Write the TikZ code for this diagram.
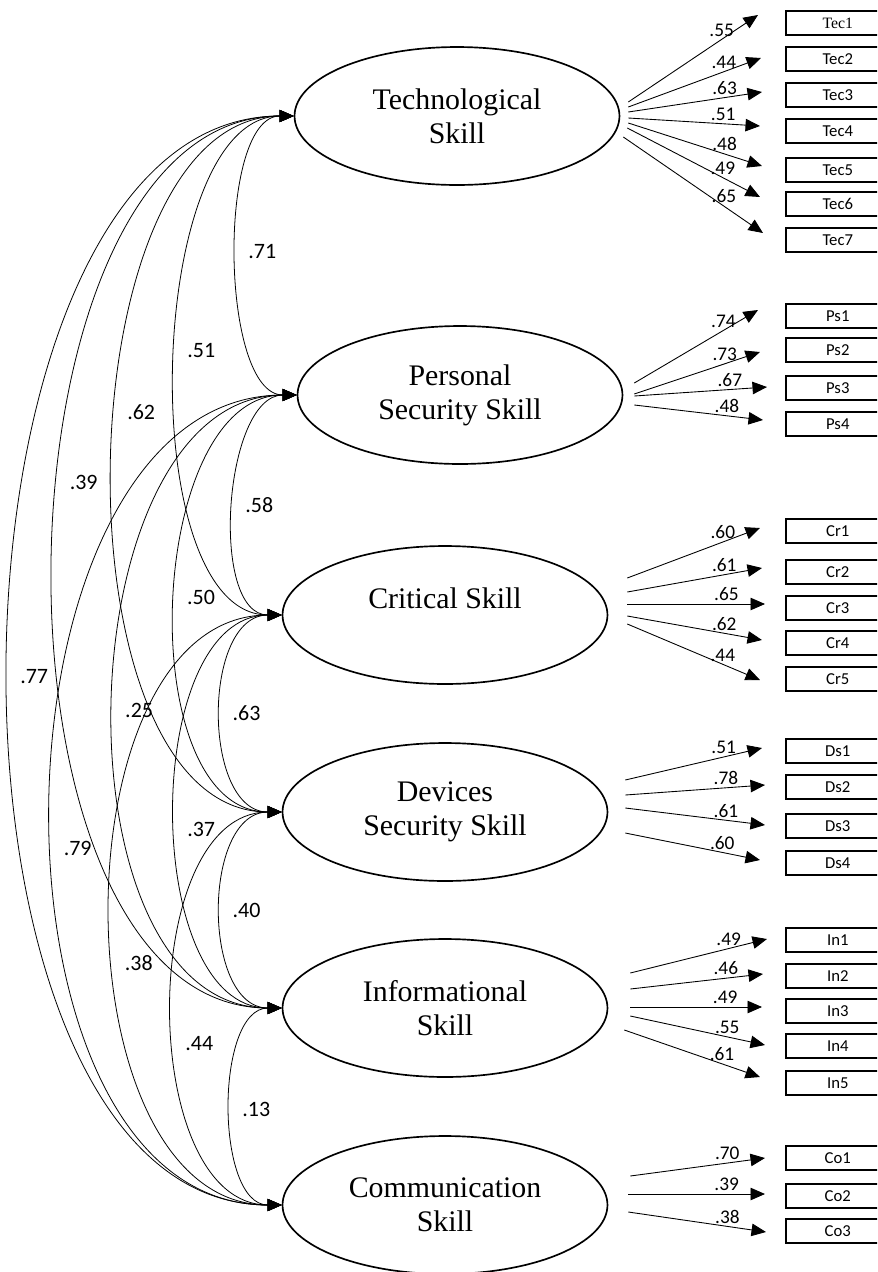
\documentclass[tikz,border=0pt]{standalone}
\usepackage{fontspec}
\setmainfont{Liberation Serif}
\newfontfamily\numfont{Carlito}
\usetikzlibrary{calc}
\usetikzlibrary{arrows.meta}
\usetikzlibrary{shapes.geometric}

\begin{document}
\begin{tikzpicture}[x=0.02cm, y=-0.02cm,
  latent/.style={draw, ellipse, line width=0.95pt, minimum width=6.5cm, minimum height=2.76cm,
    inner sep=0pt, align=center, font=\fontsize{17}{19.5}\selectfont},
  item/.style={draw, rectangle, line width=0.9pt, anchor=west, minimum width=2.08cm,
    minimum height=0.48cm, inner sep=0pt, font=\numfont\fontsize{9.5}{10}\selectfont},
  load/.style={black, line width=0.5pt, -{Triangle[length=2.9mm, width=2.5mm]}},
  corr/.style={black, line width=0.45pt,
    {Triangle[length=2.8mm, width=2.4mm]}-{Triangle[length=2.8mm, width=2.4mm]}},
  wgt/.style={above, pos=0.72, inner sep=1.5pt, font=\numfont\fontsize{11}{12}\selectfont},
  cov/.style={right=6pt, inner sep=0pt, font=\numfont\fontsize{12.5}{14}\selectfont}]

\useasboundingbox (0,0) rectangle (877,1272);
\clip (0,0) rectangle (877,1272);

% latent factors
\node[latent] (tec) at (457,116) {Technological\\Skill};
\node[latent] (ps) at (460,395) {Personal\\Security Skill};
\node[latent] (cr) at (445,615) {Critical Skill\\~};
\node[latent] (ds) at (445,812) {Devices\\Security Skill};
\node[latent] (in) at (445,1008) {Informational\\Skill};
\node[latent] (co) at (445,1205) {Communication\\Skill};

% observed items
\node[item, font=\fontsize{9}{10}\selectfont] (tec1) at (785,23) {Tec1};
\node[item] (tec2) at (785,59) {Tec2};
\node[item] (tec3) at (785,95) {Tec3};
\node[item] (tec4) at (785,131) {Tec4};
\node[item] (tec5) at (785,170) {Tec5};
\node[item] (tec6) at (785,204) {Tec6};
\node[item] (tec7) at (785,240) {Tec7};

\node[item] (ps1) at (785,316) {Ps1};
\node[item] (ps2) at (785,350) {Ps2};
\node[item] (ps3) at (785,388) {Ps3};
\node[item] (ps4) at (785,424) {Ps4};

\node[item] (cr1) at (785,531) {Cr1};
\node[item] (cr2) at (785,572) {Cr2};
\node[item] (cr3) at (785,608) {Cr3};
\node[item] (cr4) at (785,643) {Cr4};
\node[item] (cr5) at (785,679) {Cr5};

\node[item] (ds1) at (785,751) {Ds1};
\node[item] (ds2) at (785,787) {Ds2};
\node[item] (ds3) at (785,826) {Ds3};
\node[item] (ds4) at (785,863) {Ds4};

\node[item] (in1) at (785,940) {In1};
\node[item] (in2) at (785,976) {In2};
\node[item] (in3) at (785,1011) {In3};
\node[item] (in4) at (785,1046) {In4};
\node[item] (in5) at (785,1083) {In5};

\node[item] (co1) at (785,1158) {Co1};
\node[item] (co2) at (785,1196) {Co2};
\node[item] (co3) at (785,1231) {Co3};

% loadings
\draw[load] ($(tec.east)+(8,-14)$) -- node[wgt] {.55} ($(tec1.west)+(-27,-8)$);
\draw[load] ($(tec.east)+(8,-9)$) -- node[wgt] {.44} ($(tec2.west)+(-24,-1)$);
\draw[load] ($(tec.east)+(8,-4)$) -- node[wgt] {.63} ($(tec3.west)+(-23,-3)$);
\draw[load] ($(tec.east)+(8,2)$) -- node[wgt] {.51} ($(tec4.west)+(-25,-5)$);
\draw[load] ($(tec.east)+(8,7)$) -- node[wgt] {.48} ($(tec5.west)+(-23,-4)$);
\draw[load] ($(tec.east)+(7,12)$) -- node[wgt] {.49} ($(tec6.west)+(-25,-7)$);
\draw[load] ($(tec.east)+(3,21)$) -- node[wgt] {.65} ($(tec7.west)+(-22,-7)$);

\draw[load] ($(ps.east)+(11,-12)$) -- node[wgt] {.74} ($(ps1.west)+(-27,-6)$);
\draw[load] ($(ps.east)+(11,-1)$) -- node[wgt] {.73} ($(ps2.west)+(-25,2)$);
\draw[load] ($(ps.east)+(11,1)$) -- node[wgt] {.67} ($(ps3.west)+(-18,-1)$);
\draw[load] ($(ps.east)+(11,10)$) -- node[wgt] {.48} ($(ps4.west)+(-22,-4)$);

\draw[load] ($(cr.east)+(19,-37)$) -- node[wgt] {.60} ($(cr1.west)+(-25,-3)$);
\draw[load] ($(cr.east)+(19,-23)$) -- node[wgt] {.61} ($(cr2.west)+(-23,-4)$);
\draw[load] ($(cr.east)+(19,-11)$) -- node[wgt] {.65} ($(cr3.west)+(-20,-4)$);
\draw[load] ($(cr.east)+(19,1)$) -- node[wgt] {.62} ($(cr4.west)+(-23,-3)$);
\draw[load] ($(cr.east)+(19,9)$) -- node[wgt] {.44} ($(cr5.west)+(-25,1)$);

\draw[load] ($(ds.east)+(17,-32)$) -- node[wgt] {.51} ($(ds1.west)+(-23,-3)$);
\draw[load] ($(ds.east)+(17,-17)$) -- node[wgt] {.78} ($(ds2.west)+(-20,-2)$);
\draw[load] ($(ds.east)+(17,-4)$) -- node[wgt] {.61} ($(ds3.west)+(-20,-1)$);
\draw[load] ($(ds.east)+(17,21)$) -- node[wgt] {.60} ($(ds4.west)+(-25,-3)$);

\draw[load] ($(in.east)+(22,-35)$) -- node[wgt] {.49} ($(in1.west)+(-18,-1)$);
\draw[load] ($(in.east)+(22,-19)$) -- node[wgt] {.46} ($(in2.west)+(-22,-2)$);
\draw[load] ($(in.east)+(22,-1)$) -- node[wgt] {.49} ($(in3.west)+(-23,-4)$);
\draw[load] ($(in.east)+(22,8)$) -- node[wgt] {.55} ($(in4.west)+(-20,-1)$);
\draw[load] ($(in.east)+(16,22)$) -- node[wgt] {.61} ($(in5.west)+(-25,-6)$);

\draw[load] ($(co.east)+(22,-29)$) -- node[wgt] {.70} ($(co1.west)+(-20,0)$);
\draw[load] ($(co.east)+(20,-11)$) -- node[wgt] {.39} ($(co2.west)+(-20,-2)$);
\draw[load] ($(co.east)+(20,7)$) -- node[wgt] {.38} ($(co3.west)+(-19,1)$);

% correlations
\draw[corr] (tec.west) .. controls +(-77,0) and +(-77,0) .. (ps.west) node[cov, pos=0.49] {.71};
\draw[corr] (tec.west) .. controls +(-149,0) and +(-149,0) .. (cr.west) node[cov, pos=0.48] {.51};
\draw[corr] (tec.west) .. controls +(-232,0) and +(-232,0) .. (ds.west) node[cov, pos=0.45] {.62};
\draw[corr] (tec.west) .. controls +(-311,0) and +(-311,0) .. (in.west) node[cov, pos=0.44] {.39};
\draw[corr] (tec.west) .. controls +(-371,0) and +(-371,0) .. (co.west) node[cov, pos=0.51] {.77};
\draw[corr] (ps.west) .. controls +(-73,0) and +(-73,0) .. (cr.west) node[cov, pos=0.5] {.58};
\draw[corr] (ps.west) .. controls +(-151,0) and +(-151,0) .. (ds.west) node[cov, pos=0.49] {.50};
\draw[corr] (ps.west) .. controls +(-233,0) and +(-233,0) .. (in.west) node[cov, pos=0.51] {.25};
\draw[corr] (ps.west) .. controls +(-316,0) and +(-316,0) .. (co.west) node[cov, pos=0.54] {.79};
\draw[corr] (cr.west) .. controls +(-80,0) and +(-80,0) .. (ds.west) node[cov, pos=0.5] {.63};
\draw[corr] (cr.west) .. controls +(-141,0) and +(-141,0) .. (in.west) node[cov, pos=0.53] {.37};
\draw[corr] (cr.west) .. controls +(-227,0) and +(-227,0) .. (co.west) node[cov, pos=0.56] {.38};
\draw[corr] (ds.west) .. controls +(-80,0) and +(-80,0) .. (in.west) node[cov, pos=0.5] {.40};
\draw[corr] (ds.west) .. controls +(-145,0) and +(-145,0) .. (co.west) node[cov, pos=0.56] {.44};
\draw[corr] (in.west) .. controls +(-67,0) and +(-67,0) .. (co.west) node[cov, pos=0.51] {.13};

\end{tikzpicture}
\end{document}
